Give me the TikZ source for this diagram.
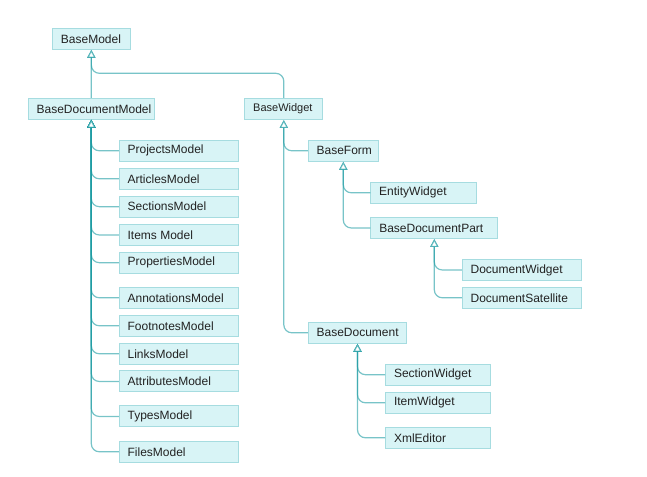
\documentclass[tikz,border=0pt]{standalone}
\usepackage{fontspec}
\setmainfont{Liberation Sans}
\usetikzlibrary{arrows.meta}
\definecolor{boxfill}{HTML}{D8F4F6}
\definecolor{boxline}{HTML}{A6DCE0}
\definecolor{conncol}{HTML}{1E9CA3}
\definecolor{txt}{HTML}{222222}
\tikzset{
  box/.style={rectangle, draw=boxline, fill=boxfill, line width=0.75pt, minimum height=15.75pt, inner sep=0pt},
  lbl/.style={font=\fontsize{9}{10}\selectfont, text=txt, anchor=west, inner sep=0pt, xshift=6.4pt},
  lblsmall/.style={lbl, font=\fontsize{8.25}{10}\selectfont},
  conn/.style={draw=conncol, draw opacity=0.6, line width=0.9pt, rounded corners=6pt,
    -{Triangle[open, width=6.2pt, length=6pt, fill=white]}},
}
\begin{document}
\begin{tikzpicture}[x=0.75pt, y=-0.75pt]
\useasboundingbox (0,0) rectangle (647,477);
% top level
\node[box, minimum width=58pt, label={[lbl]west:BaseModel}] (bm) at (91.35,38.8) {};
\node[box, minimum width=94.5pt, label={[lbl]west:BaseDocumentModel}] (bdm) at (91.3,108.8) {};
\node[box, minimum width=58.3pt, label={[lblsmall]west:BaseWidget}] (bw) at (283.8,109) {};
% BaseDocumentModel children
\node[box, minimum width=89.5pt, label={[lbl]west:ProjectsModel}] (m1) at (179,150.8) {};
\node[box, minimum width=89.5pt, label={[lbl]west:ArticlesModel}] (m2) at (179,178.8) {};
\node[box, minimum width=89.5pt, label={[lbl]west:SectionsModel}] (m3) at (179,206.7) {};
\node[box, minimum width=89.5pt, label={[lbl]west:Items Model}] (m4) at (179,235) {};
\node[box, minimum width=89.5pt, label={[lbl]west:PropertiesModel}] (m5) at (179,262.7) {};
\node[box, minimum width=89.5pt, label={[lbl]west:AnnotationsModel}] (m6) at (179,297.8) {};
\node[box, minimum width=89.5pt, label={[lbl]west:FootnotesModel}] (m7) at (179,325.8) {};
\node[box, minimum width=89.5pt, label={[lbl]west:LinksModel}] (m8) at (179,353.8) {};
\node[box, minimum width=89.5pt, label={[lbl]west:AttributesModel}] (m9) at (179,381.5) {};
\node[box, minimum width=89.5pt, label={[lbl]west:TypesModel}] (m10) at (179,416.5) {};
\node[box, minimum width=89.5pt, label={[lbl]west:FilesModel}] (m11) at (179,451.8) {};
% BaseWidget branch
\node[box, minimum width=52.5pt, label={[lbl]west:BaseForm}] (bf) at (343.3,150.8) {};
\node[box, minimum width=79.3pt, label={[lbl]west:EntityWidget}] (ew) at (423.8,192.8) {};
\node[box, minimum width=95pt, label={[lbl]west:BaseDocumentPart}] (bdp) at (434.3,228) {};
\node[box, minimum width=89.5pt, label={[lbl]west:DocumentWidget}] (dw) at (522,270) {};
\node[box, minimum width=89.5pt, label={[lbl]west:DocumentSatellite}] (ds) at (522,297.8) {};
\node[box, minimum width=73.8pt, label={[lbl]west:BaseDocument}] (bd) at (357.5,332.8) {};
\node[box, minimum width=78.75pt, label={[lbl]west:SectionWidget}] (sw) at (438.2,374.7) {};
\node[box, minimum width=78.75pt, label={[lbl]west:ItemWidget}] (iw) at (438.2,402.8) {};
\node[box, minimum width=78.75pt, label={[lbl]west:XmlEditor}] (xe) at (438.2,437.8) {};
% connectors
\coordinate (j) at (91.35,73.3);
\draw[conn] (bdm.north) -- (bm.south);
\draw[conn] (bw.north) |- (j) -- (bm.south);
\foreach \c in {m1,m2,m3,m4,m5,m6,m7,m8,m9,m10,m11}
  \draw[conn] (\c.west) -| (bdm.south);
\draw[conn] (bf.west) -| (bw.south);
\draw[conn] (bd.west) -| (bw.south);
\draw[conn] (ew.west) -| (bf.south);
\draw[conn] (bdp.west) -| (bf.south);
\draw[conn] (dw.west) -| (bdp.south);
\draw[conn] (ds.west) -| (bdp.south);
\draw[conn] (sw.west) -| (bd.south);
\draw[conn] (iw.west) -| (bd.south);
\draw[conn] (xe.west) -| (bd.south);
\end{tikzpicture}
\end{document}
